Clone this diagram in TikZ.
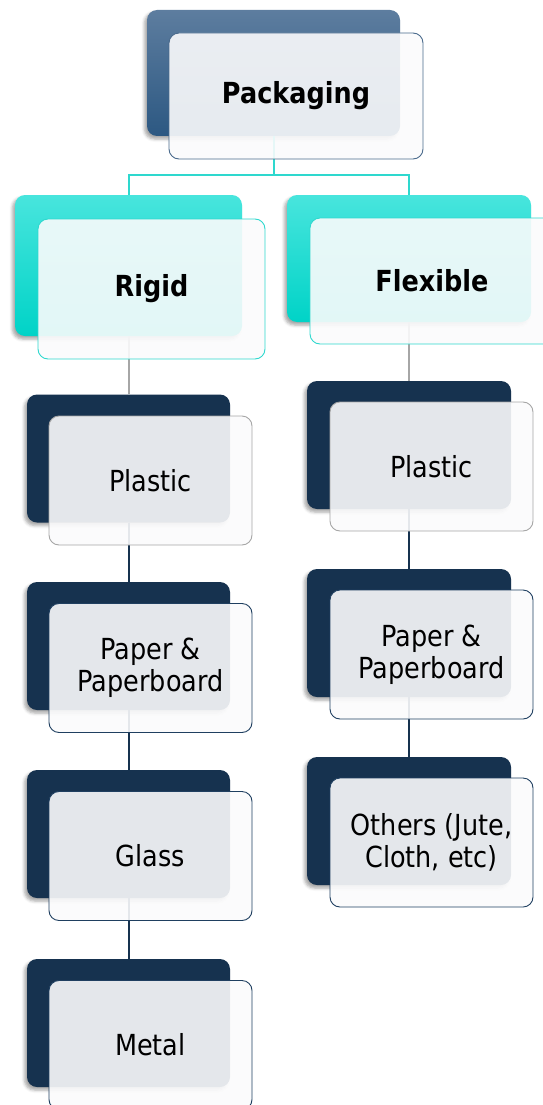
\documentclass[tikz,border=0pt]{standalone}
\usepackage{fontspec}
\setmainfont{DejaVu Sans}[FakeStretch=0.88]
\usetikzlibrary{shadows.blur}

\definecolor{navy}{HTML}{16324F}
\definecolor{navyline}{HTML}{1F3F60}
\definecolor{steeltop}{HTML}{5D7D9F}
\definecolor{steelbot}{HTML}{2C5882}
\definecolor{steelline}{HTML}{4A6A8C}
\definecolor{turqtop}{HTML}{48E5DD}
\definecolor{turqbot}{HTML}{00D3C7}
\definecolor{turqline}{HTML}{2ED8CE}
\definecolor{greyline}{HTML}{A6A6A6}
\definecolor{frontfill}{HTML}{FBFBFC}

\tikzset{
	backbox/.style={rectangle, rounded corners=10pt, inner sep=0pt, minimum height=128pt,
		blur shadow={shadow xshift=-2.5pt, shadow yshift=-3pt, shadow blur radius=3pt, shadow opacity=35}},
	frontbox/.style={rectangle, rounded corners=10pt, draw, line width=0.9pt, inner sep=0pt,
		fill=frontfill, fill opacity=0.9, text opacity=1, minimum height=129pt,
		align=center, font=\fontsize{29}{32}\selectfont},
	headfont/.style={font=\fontsize{29}{32}\selectfont\bfseries},
	link/.style={line width=2pt}
}

\begin{document}
	\begin{tikzpicture}[x=1pt, y=-1pt]
		\useasboundingbox (0,0) rectangle (543,1105);
		\clip (0,0) rectangle (543,1105);

		% back boxes
		\node[backbox, minimum width=253pt, minimum height=126pt, top color=steeltop, bottom color=steelbot] (pkgB) at (273.5,73) {};
		\node[backbox, minimum width=227pt, minimum height=141pt, top color=turqtop, bottom color=turqbot] (rigB) at (128.5,265.5) {};
		\node[backbox, minimum width=244pt, minimum height=127pt, top color=turqtop, bottom color=turqbot] (flxB) at (409,258.5) {};

		\foreach \nm/\yy in {rpl/458.5, rpp/646, rgl/834, rmt/1023}
			\node[backbox, minimum width=203pt, fill=navy] (\nm B) at (128.5,\yy) {};
		\foreach \nm/\yy in {fpl/445, fpp/633, fot/821}
			\node[backbox, minimum width=204pt, fill=navy] (\nm B) at (409,\yy) {};

		% connectors
		\coordinate (bus) at (273.5,175);
		\begin{scope}[link, turqline]
			\draw (pkgB.south) -- (bus) -| (rigB.north);
			\draw (bus) -| (flxB.north);
		\end{scope}

		\begin{scope}[link, greyline]
			\draw (rigB.south) -- (rplB.north);
			\draw (flxB.south) -- (fplB.north);
		\end{scope}

		\begin{scope}[link, navy]
			\draw (rplB.south) -- (rppB.north);
			\draw (rppB.south) -- (rglB.north);
			\draw (rglB.south) -- (rmtB.north);
			\draw (fplB.south) -- (fppB.north);
			\draw (fppB.south) -- (fotB.north);
		\end{scope}

		% front boxes
		\node[frontbox, headfont, draw=steelline, minimum width=254pt, minimum height=126pt] (pkg) at (296,96) {Packaging};
		\node[frontbox, headfont, draw=turqline, minimum width=227pt, minimum height=140pt] (rig) at (151.5,289) {Rigid};
		\node[frontbox, headfont, draw=turqline, minimum width=244pt, minimum height=126pt] (flx) at (432,281) {Flexible};

		\node[frontbox, draw=greyline, minimum width=203pt] (rpl) at (150.5,480.5) {Plastic};
		\node[frontbox, draw=navyline, minimum width=203pt] (rpp) at (150.5,668) {Paper \&\\Paperboard};
		\node[frontbox, draw=navyline, minimum width=203pt] (rgl) at (150.5,856) {Glass};
		\node[frontbox, draw=navyline, minimum width=203pt] (rmt) at (150.5,1045) {Metal};

		\node[frontbox, draw=greyline, minimum width=203pt] (fpl) at (431.5,466.5) {Plastic};
		\node[frontbox, draw=navyline, minimum width=203pt] (fpp) at (431.5,654.5) {Paper \&\\Paperboard};
		\node[frontbox, draw=navyline, minimum width=203pt] (fot) at (431.5,842.5) {Others (Jute,\\Cloth, etc)};

	\end{tikzpicture}
\end{document}
